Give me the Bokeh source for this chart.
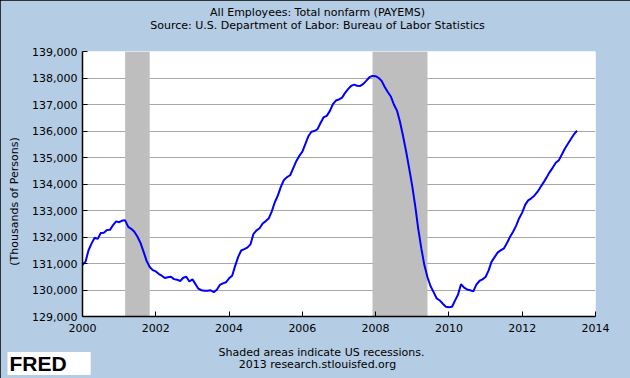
import pandas as pd
from math import pi
from bokeh.plotting import figure
from bokeh.models import Range1d, FixedTicker, NumeralTickFormatter, BoxAnnotation, Label
from bokeh.embed import file_html
from bokeh.resources import INLINE

# ---------------- data (thousands of persons, monthly, seasonally adjusted) ----------------
title_text = "All Employees: Total nonfarm (PAYEMS)"
source_text = "Source: U.S. Department of Labor: Bureau of Labor Statistics"
y_label = "(Thousands of Persons)"
note_text = "Shaded areas indicate US recessions."
credit_text = "2013 research.stlouisfed.org"
logo_text = "FRED"

first_month = "2000-01-01"
v2000 = [130950, 131080, 131500, 131760, 131970, 131930, 132150, 132160, 132260, 132270, 132450, 132590]
v2001 = [132560, 132620, 132630, 132380, 132310, 132200, 132020, 131780, 131440, 131100, 130870, 130750]
v2002 = [130700, 130600, 130540, 130450, 130480, 130500, 130410, 130390, 130340, 130460, 130500, 130320]
v2003 = [130400, 130220, 130050, 129990, 129970, 129970, 129990, 129920, 130010, 130190, 130250, 130290]
v2004 = [130440, 130540, 130900, 131250, 131490, 131540, 131600, 131720, 132120, 132250, 132330, 132510]
v2005 = [132600, 132710, 132960, 133310, 133560, 133900, 134150, 134260, 134330, 134590, 134860, 135060]
v2006 = [135220, 135520, 135800, 135970, 136000, 136070, 136300, 136520, 136570, 136750, 137010, 137150]
v2007 = [137190, 137260, 137430, 137580, 137700, 137750, 137710, 137700, 137780, 137900, 138030, 138080]
v2008 = [138070, 138000, 137890, 137660, 137470, 137300, 137000, 136770, 136330, 135800, 135210, 134580]
v2009 = [133900, 133110, 132310, 131560, 130940, 130480, 130150, 129920, 129680, 129610, 129480, 129370]
v2010 = [129350, 129370, 129590, 129820, 130220, 130090, 130020, 129990, 129950, 130200, 130340, 130400]
v2011 = [130490, 130740, 131060, 131240, 131410, 131500, 131560, 131760, 132000, 132190, 132420, 132700]
v2012 = [132920, 133220, 133380, 133460, 133560, 133700, 133880, 134060, 134250, 134450, 134620, 134800]
v2013 = [134900, 135120, 135330, 135520, 135700, 135880, 136010]

values = v2000 + v2001 + v2002 + v2003 + v2004 + v2005 + v2006 + v2007 + v2008 + v2009 + v2010 + v2011 + v2012 + v2013
dates = pd.date_range(first_month, periods=len(values), freq="MS")

recession_starts = ["2001-03-01", "2007-12-01"]
recession_ends = ["2001-11-01", "2009-06-01"]

x_tick_labels = ["2000", "2002", "2004", "2006", "2008", "2010", "2012", "2014"]
y_ticks = [129000, 130000, 131000, 132000, 133000, 134000, 135000, 136000, 137000, 138000, 139000]

# ---------------- styling ----------------
BG = "#B4CCE4"
FONT = "DejaVu Sans"

x_tick_ms = [pd.Timestamp(f"{t}-01-01").value // 10**6 for t in x_tick_labels]

p = figure(
    width=630, height=378, output_backend="svg", toolbar_location=None, title=None,
    x_axis_type="datetime",
    x_range=Range1d(pd.Timestamp(x_tick_labels[0] + "-01-01"), pd.Timestamp(x_tick_labels[-1] + "-01-01")),
    y_range=Range1d(y_ticks[0], y_ticks[-1]),
    min_border_left=82, min_border_right=35, min_border_top=51, min_border_bottom=62,
    background_fill_color="white", border_fill_color=BG, outline_line_color=None,
)
p.styles = {"outline": "1px solid black", "outline-offset": "-1px"}

# recessions (drawn over grid, under line)
for s, e in zip(recession_starts, recession_ends):
    p.add_layout(BoxAnnotation(left=pd.Timestamp(s), right=pd.Timestamp(e),
                               fill_color="#BEBEBE", fill_alpha=1.0, line_color=None, level="underlay"))

p.line(dates, values, line_color="#0000FF", line_width=2)

# axes
p.xaxis.ticker = FixedTicker(ticks=x_tick_ms)
p.xaxis.major_label_overrides = {ms: lab for ms, lab in zip(x_tick_ms, x_tick_labels)}
p.yaxis.ticker = FixedTicker(ticks=y_ticks)
p.yaxis.formatter = NumeralTickFormatter(format="0,0")

for ax in (p.xaxis, p.yaxis):
    ax.axis_line_color = "black"
    ax.axis_line_width = 1.5
    ax.major_tick_line_color = "black"
    ax.major_tick_in = 5
    ax.major_tick_out = 0
    ax.minor_tick_line_color = None
    ax.major_label_text_font = FONT
    ax.major_label_text_font_size = "11px"
    ax.major_label_text_color = "black"
p.yaxis.major_label_standoff = 5
p.xaxis.major_label_standoff = 7

p.xgrid.grid_line_color = None
p.ygrid.grid_line_color = "#A8A8A8"
p.ygrid.grid_line_width = 1


def text_label(txt, x, y, side, **kw):
    opts = dict(x_units="canvas", y_units="canvas", text_align="center", text_baseline="middle",
                text_font=FONT, text_font_size="11px", text_color="black")
    opts.update(kw)
    p.add_layout(Label(x=x, y=y, text=txt, **opts), side)


text_label(title_text, 317, 12, "above")
text_label(source_text, 317, 25, "above")
text_label(y_label, 14, 201, "left", angle=pi / 2)
text_label(note_text, 321, 352, "below")
text_label(credit_text, 317, 364, "below")
text_label(logo_text, 7, 363, "above", text_align="left", text_font="Liberation Sans",
           text_font_style="bold", text_font_size="21px",
           background_fill_color="white",
           padding=dict(left=2, right=24, top=0, bottom=0))

open("out.html", "w").write(file_html(p, INLINE))
